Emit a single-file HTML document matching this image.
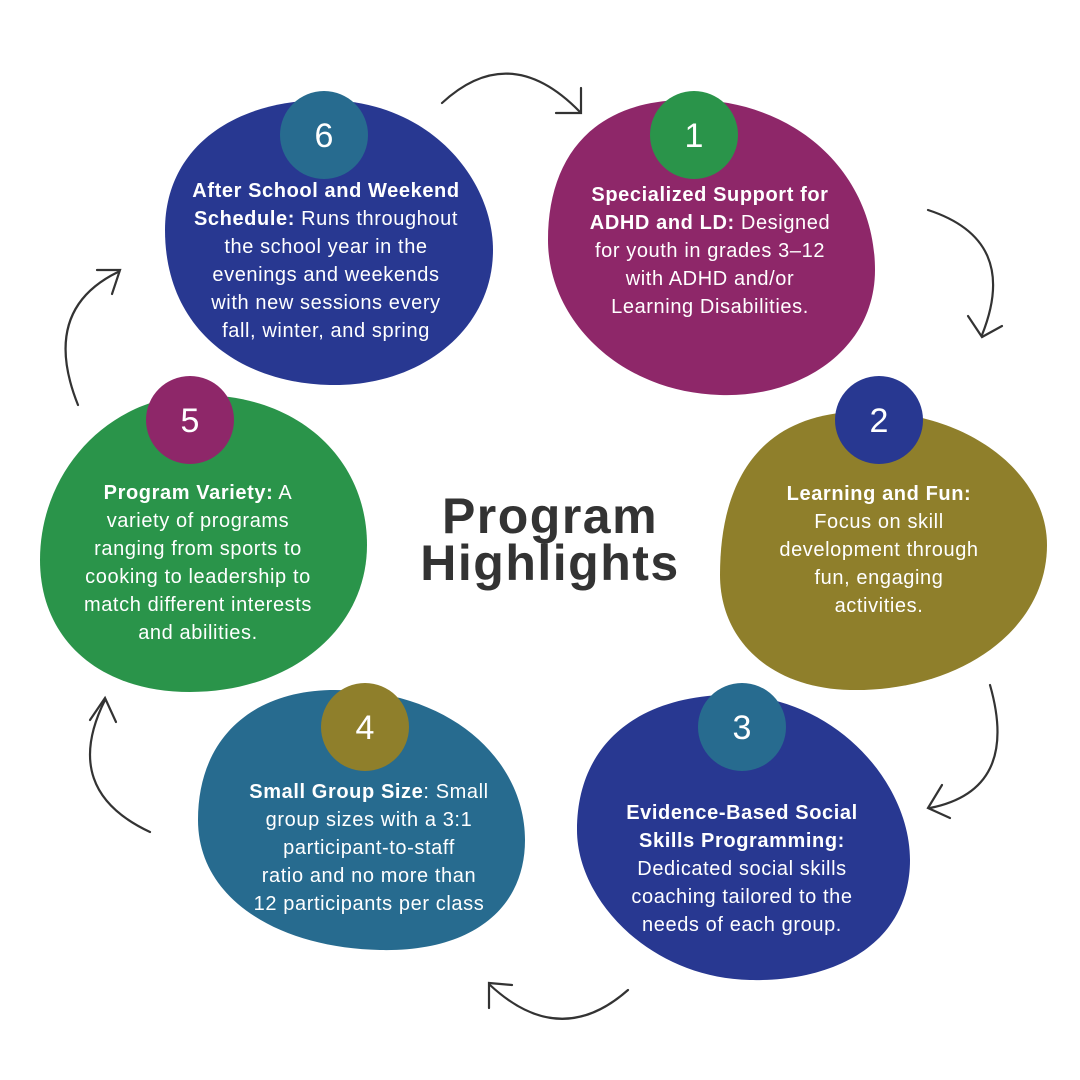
<!DOCTYPE html>
<html><head><meta charset="utf-8"><style>
html,body{margin:0;padding:0;background:#fff}
svg{display:block}
text{font-family:"Liberation Sans",sans-serif}
.t{fill:#fff;font-size:20px;letter-spacing:0.6px;text-anchor:middle}
.b{font-weight:bold}
.n{fill:#fff;font-size:34px;text-anchor:middle}
.a{fill:none;stroke:#333;stroke-width:2.2;stroke-linecap:round;stroke-linejoin:miter}
</style></head><body>
<svg width="1080" height="1080" viewBox="0 0 1080 1080">
<rect width="1080" height="1080" fill="#fff"/>
<path d="M680,100 C790,95 875,170 875,270 C875,350 800,398 720,395 C620,392 548,320 548,240 C548,160 590,103 680,100Z" fill="#8E2769"/>
<path d="M850,412 C960,405 1047,470 1047,545 C1047,630 960,692 850,690 C770,688 720,640 720,575 C720,480 760,418 850,412Z" fill="#8F7F2B"/>
<path d="M720,695 C830,690 910,780 910,860 C910,940 840,982 750,980 C650,978 577,900 577,830 C577,750 630,700 720,695Z" fill="#283891"/>
<path d="M330,690 C450,688 525,760 525,840 C525,910 470,952 380,950 C280,948 198,900 198,820 C198,740 250,692 330,690Z" fill="#276B8F"/>
<path d="M200,395 C300,395 367,460 367,545 C367,630 290,692 190,692 C100,692 40,640 40,560 C40,470 110,395 200,395Z" fill="#2A944A"/>
<path d="M320,100 C430,98 493,180 493,250 C493,330 420,387 330,385 C240,383 165,330 165,230 C165,150 230,102 320,100Z" fill="#283891"/>

<circle cx="694" cy="135" r="44" fill="#2A944A"/><text class="n" x="694" y="147">1</text>
<circle cx="879" cy="420" r="44" fill="#283891"/><text class="n" x="879" y="432">2</text>
<circle cx="742" cy="727" r="44" fill="#276B8F"/><text class="n" x="742" y="739">3</text>
<circle cx="365" cy="727" r="44" fill="#8F7F2B"/><text class="n" x="365" y="739">4</text>
<circle cx="190" cy="420" r="44" fill="#8E2769"/><text class="n" x="190" y="432">5</text>
<circle cx="324" cy="135" r="44" fill="#276B8F"/><text class="n" x="324" y="147">6</text>

<g class="t">
<text x="710" y="201" class="t b">Specialized Support for</text>
<text x="710" y="229" class="t"><tspan class="b">ADHD and LD:</tspan> Designed</text>
<text x="710" y="257" class="t">for youth in grades 3–12</text>
<text x="710" y="285" class="t">with ADHD and/or</text>
<text x="710" y="313" class="t">Learning Disabilities.</text>

<text x="879" y="500" class="t b">Learning and Fun:</text>
<text x="879" y="528" class="t">Focus on skill</text>
<text x="879" y="556" class="t">development through</text>
<text x="879" y="584" class="t">fun, engaging</text>
<text x="879" y="612" class="t">activities.</text>

<text x="742" y="819" class="t b">Evidence-Based Social</text>
<text x="742" y="847" class="t b">Skills Programming:</text>
<text x="742" y="875" class="t">Dedicated social skills</text>
<text x="742" y="903" class="t">coaching tailored to the</text>
<text x="742" y="931" class="t">needs of each group.</text>

<text x="369" y="798" class="t"><tspan class="b">Small Group Size</tspan>: Small</text>
<text x="369" y="826" class="t">group sizes with a 3:1</text>
<text x="369" y="854" class="t">participant-to-staff</text>
<text x="369" y="882" class="t">ratio and no more than</text>
<text x="369" y="910" class="t">12 participants per class</text>

<text x="198" y="499" class="t"><tspan class="b">Program Variety:</tspan> A</text>
<text x="198" y="527" class="t">variety of programs</text>
<text x="198" y="555" class="t">ranging from sports to</text>
<text x="198" y="583" class="t">cooking to leadership to</text>
<text x="198" y="611" class="t">match different interests</text>
<text x="198" y="639" class="t">and abilities.</text>

<text x="326" y="197" class="t b">After School and Weekend</text>
<text x="326" y="225" class="t"><tspan class="b">Schedule:</tspan> Runs throughout</text>
<text x="326" y="253" class="t">the school year in the</text>
<text x="326" y="281" class="t">evenings and weekends</text>
<text x="326" y="309" class="t">with new sessions every</text>
<text x="326" y="337" class="t">fall, winter, and spring</text>
</g>

<text x="550" y="533" style="font-size:50px;font-weight:bold;fill:#333;text-anchor:middle;letter-spacing:1.5px">Program</text>
<text x="550" y="580" style="font-size:50px;font-weight:bold;fill:#333;text-anchor:middle;letter-spacing:1.5px">Highlights</text>

<path class="a" d="M442,103 Q510,40 580,112"/><path class="a" d="M581,88 L581,113 L556,113"/>
<path class="a" d="M928,210 Q1020,240 982,335"/><path class="a" d="M968,316 L982,337 L1002,326"/>
<path class="a" d="M990,685 Q1020,790 930,808"/><path class="a" d="M942,785 L928,808 L950,818"/>
<path class="a" d="M628,990 Q560,1050 490,985"/><path class="a" d="M489,1008 L489,983 L512,985"/>
<path class="a" d="M150,832 Q60,790 105,700"/><path class="a" d="M90,720 L105,698 L116,722"/>
<path class="a" d="M78,405 Q40,310 118,272"/><path class="a" d="M97,270 L120,270 L112,294"/>
</svg>
</body></html>
